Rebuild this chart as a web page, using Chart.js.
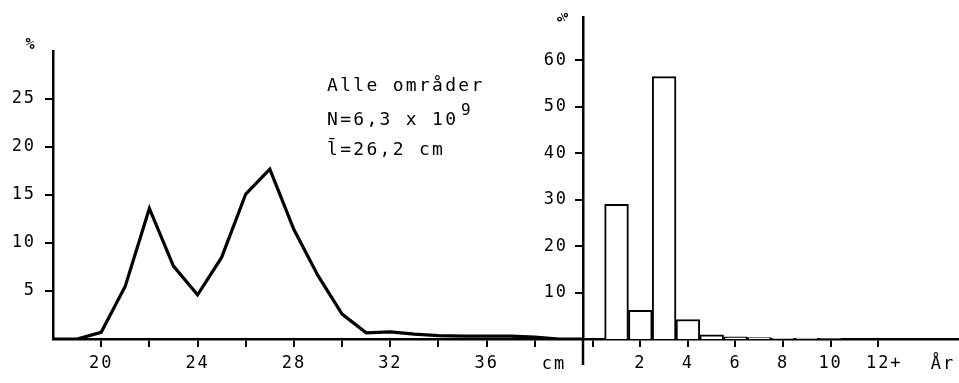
<!DOCTYPE html>
<html>
<head>
<meta charset="utf-8">
<script src="https://cdn.jsdelivr.net/npm/chart.js@4/dist/chart.umd.min.js"></script>
<style>
  body { margin: 0; background: #fff; }
  #wrap { position: relative; width: 959px; height: 383px; overflow: hidden; }
  canvas { position: absolute; top: 0; }
  #lengthChart { left: 0; }
  #ageChart { left: 500px; }
</style>
</head>
<body>
<div id="wrap">
  <canvas id="lengthChart" width="600" height="383"></canvas>
  <canvas id="ageChart" width="459" height="383"></canvas>
</div>
<script>
// Length distribution (cm) - all areas
const lengths = [18, 19, 20, 21, 22, 23, 24, 25, 26, 27, 28, 29, 30, 31, 32, 33, 34, 35, 36, 37, 38, 39, 40];
const lengthShares = [0, 0, 0.7, 5.5, 13.6, 7.6, 4.6, 8.5, 15.1, 17.7, 11.4, 6.6, 2.6, 0.65, 0.75, 0.5, 0.35, 0.3, 0.3, 0.3, 0.2, 0, 0];

// Age distribution (years)
const ages = [1, 2, 3, 4, 5, 6, 7, 8, 9, 10, 11, 12];
const ageShares = [29, 6.2, 56.5, 4.2, 0.9, 0.45, 0.3, 0.15, 0.2, 0.1, 0, 0];

// ticks
const cmTicks = [20, 22, 24, 26, 28, 30, 32, 34, 36, 38];
const cmLabels = ['20', '', '24', '', '28', '', '32', '', '36', ''];
const leftPctTicks = [5, 10, 15, 20, 25];
const yearTicks = [0, 2, 4, 6, 8, 10, 12];
const yearLabels = ['', '2', '4', '6', '8', '10', ' 12+'];
const rightPctTicks = [10, 20, 30, 40, 50, 60];

const FONT = 'DejaVu Sans Mono';
const tickFont = { family: FONT, size: 17 };

function axisStyle(len) {
    return {
        grid: { display: true, drawOnChartArea: false, drawTicks: true, tickLength: len, color: '#000', lineWidth: 2, offset: false },
        border: { display: true, color: '#000', width: 2.5 }
    };
}

const spacing = {
    id: 'spacing',
    beforeDraw(chart) {
        chart.ctx.letterSpacing = '1.9px';
    }
};

const lengthText = {
    id: 'lengthText',
    afterDraw(chart) {
        const ctx = chart.ctx;
        ctx.save();
        ctx.fillStyle = '#000';
        ctx.textAlign = 'left';
        ctx.textBaseline = 'alphabetic';
        ctx.letterSpacing = '2.3px';
        ctx.font = '18px "' + FONT + '"';
        ctx.fillText('Alle områder', 327, 91);
        ctx.fillText('N=6,3 x 10', 327, 125);
        ctx.fillText('l\u0304=26,2 cm', 327, 155);
        ctx.font = '16px "' + FONT + '"';
        ctx.fillText('9', 461, 115);
        ctx.letterSpacing = '1.9px';
        ctx.font = '17px "' + FONT + '"';
        ctx.textAlign = 'center';
        ctx.textBaseline = 'middle';
        ctx.fillText('cm', 554, 365);
        ctx.font = 'bold 15px "' + FONT + '"';
        ctx.letterSpacing = '0px';
        ctx.fillText('%', 30, 45);
        ctx.restore();
    }
};

const ageText = {
    id: 'ageText',
    afterDraw(chart) {
        const ctx = chart.ctx;
        const a = chart.chartArea;
        ctx.save();
        // y-axis continues below the baseline
        ctx.strokeStyle = '#000';
        ctx.lineWidth = 2.5;
        ctx.beginPath();
        ctx.moveTo(a.left, a.bottom);
        ctx.lineTo(a.left, a.bottom + 26);
        ctx.stroke();
        ctx.fillStyle = '#000';
        ctx.textAlign = 'center';
        ctx.textBaseline = 'middle';
        ctx.letterSpacing = '1.9px';
        ctx.font = '17px "' + FONT + '"';
        ctx.fillText('År', 443, 365);
        ctx.letterSpacing = '0px';
        ctx.font = 'bold 15px "' + FONT + '"';
        ctx.translate(61, 17);
        ctx.rotate(Math.PI / 2);
        ctx.fillText('%', 0, 0);
        ctx.restore();
    }
};

new Chart(document.getElementById('lengthChart'), {
    type: 'line',
    data: {
        datasets: [{
            data: lengths.map((x, i) => ({ x: x, y: lengthShares[i] })),
            borderColor: '#000',
            borderWidth: 3.2,
            pointRadius: 0,
            tension: 0,
            fill: false
        }]
    },
    options: {
        responsive: false,
        animation: false,
        events: [],
        layout: { padding: { left: 0, top: 51, right: 17, bottom: 0 } },
        plugins: { legend: { display: false }, tooltip: { enabled: false } },
        scales: {
            x: {
                type: 'linear', min: 18, max: 40,
                ...axisStyle(8),
                afterBuildTicks: s => { s.ticks = cmTicks.map(v => ({ value: v })); },
                afterFit: s => { s.height = 44; },
                ticks: { autoSkip: false, maxRotation: 0, padding: 6, color: '#000', font: tickFont,
                    callback: (v, i) => cmLabels[i] }
            },
            y: {
                type: 'linear', min: 0, max: 30,
                ...axisStyle(8),
                afterBuildTicks: s => { s.ticks = leftPctTicks.map(v => ({ value: v })); },
                afterFit: s => { s.width = 53; },
                ticks: { autoSkip: false, padding: 9, color: '#000', font: tickFont }
            }
        }
    },
    plugins: [spacing, lengthText]
});

new Chart(document.getElementById('ageChart'), {
    type: 'bar',
    data: {
        datasets: [{
            data: ages.map((x, i) => ({ x: x, y: ageShares[i] })),
            backgroundColor: '#fff',
            borderColor: '#000',
            borderWidth: 2,
            barPercentage: 1,
            categoryPercentage: 1
        }]
    },
    options: {
        responsive: false,
        animation: false,
        events: [],
        layout: { padding: { left: 0, top: 9, right: 0, bottom: 0 } },
        plugins: { legend: { display: false }, tooltip: { enabled: false } },
        scales: {
            x: {
                type: 'linear', min: -0.41, max: 15.4, offset: false,
                ...axisStyle(8),
                afterBuildTicks: s => { s.ticks = yearTicks.map(v => ({ value: v })); },
                afterFit: s => { s.height = 44; },
                ticks: { autoSkip: false, maxRotation: 0, padding: 6, color: '#000', font: tickFont,
                    callback: (v, i) => yearLabels[i] }
            },
            y: {
                type: 'linear', min: 0, max: 69.3,
                ...axisStyle(8),
                afterBuildTicks: s => { s.ticks = rightPctTicks.map(v => ({ value: v })); },
                afterFit: s => { s.width = 83; },
                ticks: { autoSkip: false, padding: 7, color: '#000', font: tickFont }
            }
        }
    },
    plugins: [spacing, ageText]
});
</script>
</body>
</html>
